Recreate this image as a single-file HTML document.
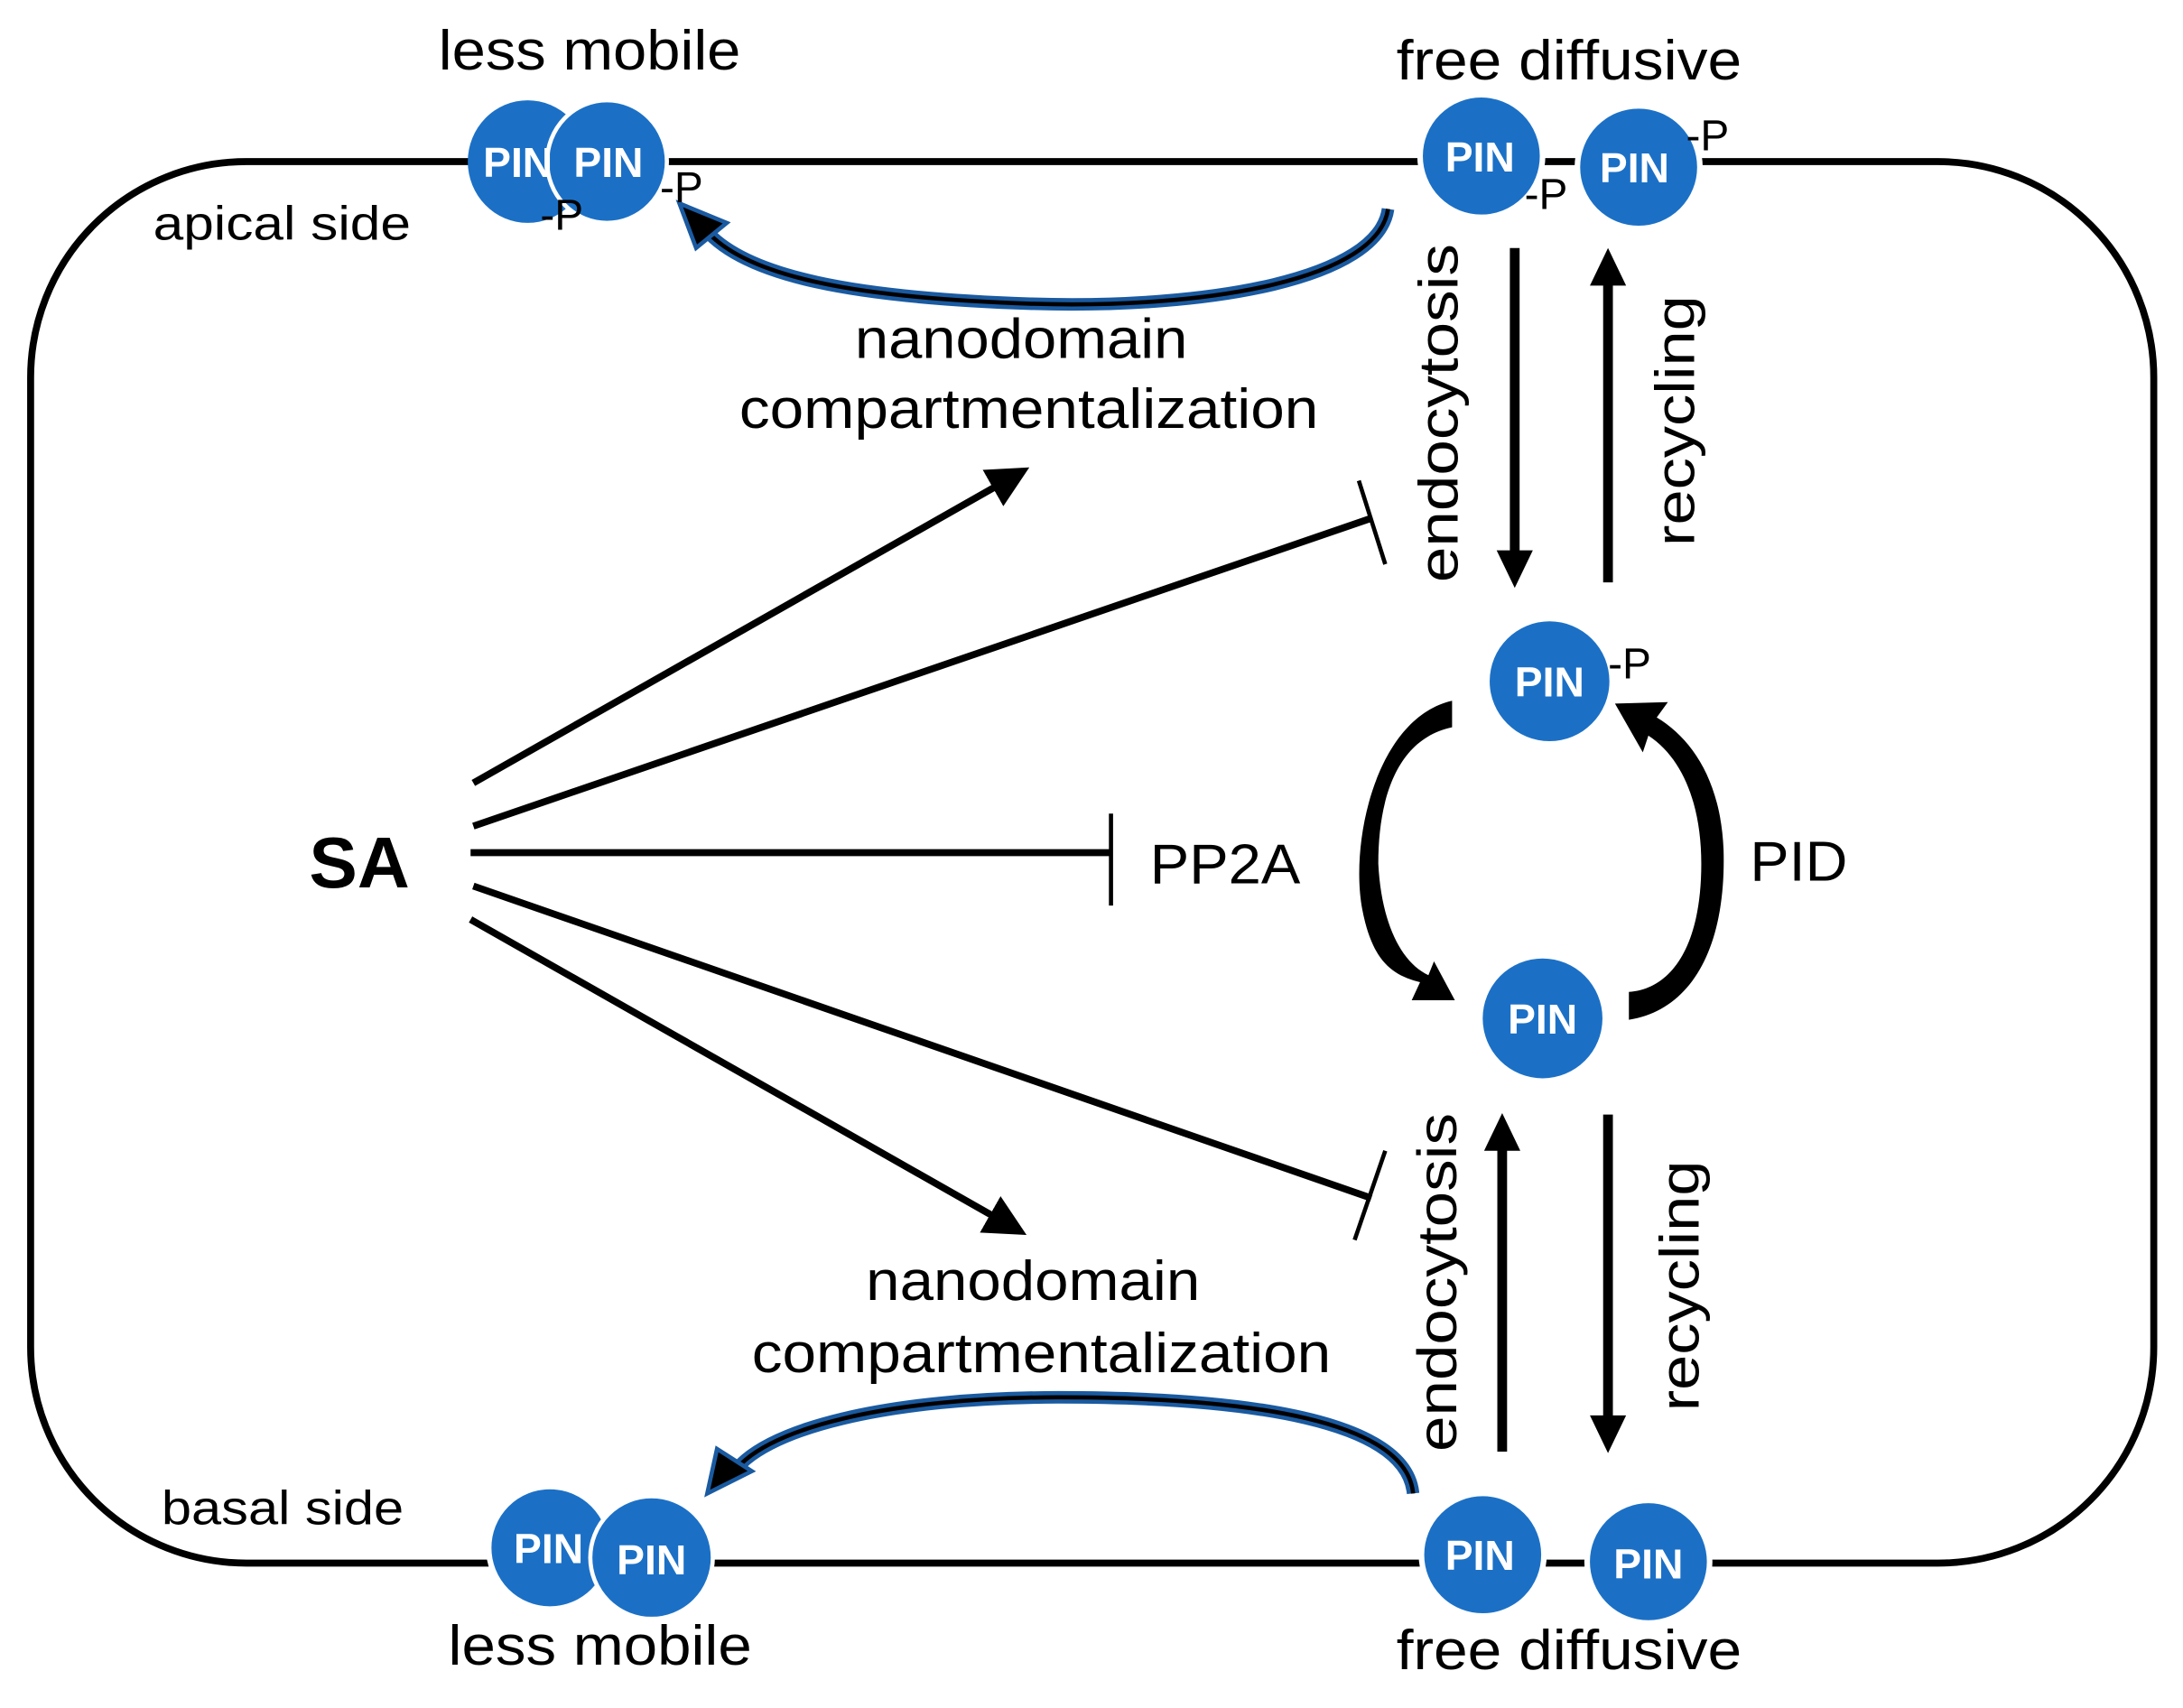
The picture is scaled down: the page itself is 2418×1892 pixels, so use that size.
<!DOCTYPE html>
<html><head><meta charset="utf-8"><style>
html,body{margin:0;padding:0;background:#fff;}
svg{display:block;}
text{font-family:"Liberation Sans",sans-serif;}
.pin{font-family:"DejaVu Sans","Liberation Sans",sans-serif;font-weight:bold;fill:#fff;font-size:30px;}
.lbl{font-size:40px;fill:#000;}
</style></head><body>
<svg width="2418" height="1892" viewBox="0 0 1568 1226" preserveAspectRatio="none" xmlns="http://www.w3.org/2000/svg">
<defs>
<marker id="ah" markerWidth="6" markerHeight="6" refX="5" refY="3" orient="auto" markerUnits="strokeWidth"><path d="M0,0 L6,3 L0,6 z" fill="#000"/></marker>
</defs>
<rect x="22" y="116" width="1525" height="1006" rx="155" ry="155" fill="none" stroke="#000" stroke-width="5"/>
<g stroke="#000" stroke-width="5" fill="none">
<line x1="340" y1="562" x2="735" y2="338" marker-end="url(#ah)"/>
<line x1="340" y1="593" x2="985" y2="372"/>
<line x1="976" y1="345" x2="995" y2="405" stroke-width="3"/>
<line x1="338" y1="612" x2="798" y2="612"/>
<line x1="798" y1="584" x2="798" y2="650" stroke-width="3"/>
<line x1="340" y1="636" x2="985" y2="860"/>
<line x1="995" y1="826" x2="973" y2="890" stroke-width="3"/>
<line x1="338" y1="660" x2="733" y2="884" marker-end="url(#ah)"/>
<line x1="1088" y1="178" x2="1088" y2="405" stroke-width="7"/>
<line x1="1155" y1="418" x2="1155" y2="195" stroke-width="7"/>
<line x1="1079" y1="1042" x2="1079" y2="815" stroke-width="7"/>
<line x1="1155" y1="800" x2="1155" y2="1025" stroke-width="7"/>
</g>
<path d="M1075,395 L1101,395 L1088,422 z" fill="#000"/>
<path d="M1142,205 L1168,205 L1155,178 z" fill="#000"/>
<path d="M1066,826 L1092,826 L1079,799 z" fill="#000"/>
<path d="M1142,1016 L1168,1016 L1155,1043 z" fill="#000"/>
<path d="M1043,503 C990,515 970,600 978,650 C985,690 1000,700 1020,705 L1014,718 L1045,718 L1030,690 L1026,700 C1005,690 992,660 990,620 C990,570 1005,530 1043,522 z" fill="#000"/>
<path d="M1170,732 C1215,725 1240,680 1238,610 C1236,560 1215,530 1190,515 L1198,504 L1160,505 L1180,540 L1184,528 C1210,545 1222,580 1222,620 C1222,680 1200,710 1170,712 z" fill="#000"/>
<path d="M997,150 C990,200 870,222 740,218 C620,214 530,200 503,160" fill="none" stroke="#1a5aa0" stroke-width="9"/>
<path d="M997,150 C990,200 870,222 740,218 C620,214 530,200 503,160" fill="none" stroke="#000" stroke-width="3"/>
<path d="M488,146 L522,160 L500,178 z" fill="#000" stroke="#1a5aa0" stroke-width="3"/>
<path d="M1015,1072 C1010,1020 900,1003 760,1003 C640,1003 545,1025 525,1060" fill="none" stroke="#1a5aa0" stroke-width="9"/>
<path d="M1015,1072 C1010,1020 900,1003 760,1003 C640,1003 545,1025 525,1060" fill="none" stroke="#000" stroke-width="3"/>
<path d="M508,1072 L515,1040 L540,1056 z" fill="#000" stroke="#1a5aa0" stroke-width="3"/>
<g fill="#1b70c6">
<ellipse cx="379" cy="116" rx="43" ry="44"/>
<ellipse cx="436" cy="116" rx="43" ry="44" stroke="#fff" stroke-width="3"/>
<ellipse cx="1064" cy="112" rx="44" ry="44" stroke="#fff" stroke-width="4"/>
<ellipse cx="1177" cy="120" rx="44" ry="44" stroke="#fff" stroke-width="4"/>
<ellipse cx="1113" cy="489" rx="43" ry="43"/>
<ellipse cx="1108" cy="731" rx="43" ry="43"/>
<ellipse cx="395" cy="1111" rx="44" ry="44" stroke="#fff" stroke-width="4"/>
<ellipse cx="468" cy="1118" rx="44" ry="44" stroke="#fff" stroke-width="3"/>
<ellipse cx="1065" cy="1116" rx="44" ry="44" stroke="#fff" stroke-width="4"/>
<ellipse cx="1184" cy="1121" rx="44" ry="44" stroke="#fff" stroke-width="4"/>
</g>
<g class="pin" text-anchor="middle">
<text x="372" y="127">PIN</text>
<text x="437" y="127">PIN</text>
<text x="1063" y="123">PIN</text>
<text x="1174" y="131">PIN</text>
<text x="1113" y="500">PIN</text>
<text x="1108" y="742">PIN</text>
<text x="394" y="1122">PIN</text>
<text x="468" y="1130">PIN</text>
<text x="1063" y="1127">PIN</text>
<text x="1184" y="1133">PIN</text>
</g>
<g font-size="31" fill="#000">
<text x="388" y="165">-P</text>
<text x="474" y="145">-P</text>
<text x="1095" y="150">-P</text>
<text x="1211" y="108">-P</text>
<text x="1155" y="487">-P</text>
</g>
<g class="lbl" lengthAdjust="spacingAndGlyphs">
<text x="315" y="50" textLength="217" lengthAdjust="spacingAndGlyphs">less mobile</text>
<text x="1003" y="57" textLength="248" lengthAdjust="spacingAndGlyphs">free diffusive</text>
<text x="614" y="257" textLength="239" lengthAdjust="spacingAndGlyphs">nanodomain</text>
<text x="531" y="307" textLength="416" lengthAdjust="spacingAndGlyphs">compartmentalization</text>
<text x="622" y="933" textLength="240" lengthAdjust="spacingAndGlyphs">nanodomain</text>
<text x="540" y="985" textLength="416" lengthAdjust="spacingAndGlyphs">compartmentalization</text>
<text x="322" y="1195" textLength="218" lengthAdjust="spacingAndGlyphs">less mobile</text>
<text x="1003" y="1198" textLength="248" lengthAdjust="spacingAndGlyphs">free diffusive</text>
<text transform="translate(1047,418) rotate(-90)" textLength="243" lengthAdjust="spacingAndGlyphs">endocytosis</text>
<text transform="translate(1217,392) rotate(-90)" textLength="180" lengthAdjust="spacingAndGlyphs">recycling</text>
<text transform="translate(1046,1042) rotate(-90)" textLength="243" lengthAdjust="spacingAndGlyphs">endocytosis</text>
<text transform="translate(1220,1013) rotate(-90)" textLength="180" lengthAdjust="spacingAndGlyphs">recycling</text>
</g>
<text x="110" y="172" font-size="34" textLength="185" lengthAdjust="spacingAndGlyphs">apical side</text>
<text x="116" y="1094" font-size="34" textLength="174" lengthAdjust="spacingAndGlyphs">basal side</text>
<text x="826" y="634" font-size="40" textLength="108" lengthAdjust="spacingAndGlyphs">PP2A</text>
<text x="1257" y="632" font-size="40" textLength="70" lengthAdjust="spacingAndGlyphs">PID</text>
<text x="222" y="637" font-size="52" font-weight="bold">SA</text>
</svg>
</body></html>
